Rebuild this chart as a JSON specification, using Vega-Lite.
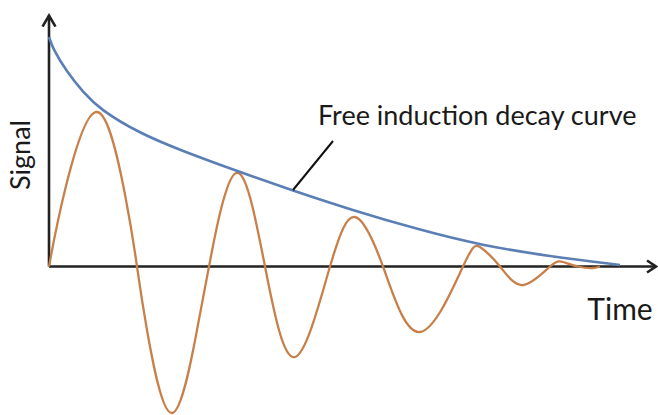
{
  "$schema": "https://vega.github.io/schema/vega-lite/v6.json",
  "width": 658,
  "height": 415,
  "autosize": "none",
  "padding": 0,
  "background": "white",
  "config": {"view": {"stroke": null}},
  "datasets": {
    "envelope": [
      {"t": 0, "s": 2.295}, {"t": 0.04, "s": 2.175}, {"t": 0.18, "s": 1.945}, {"t": 0.34, "s": 1.745},
      {"t": 0.51, "s": 1.57}, {"t": 0.91, "s": 1.33}, {"t": 1.31, "s": 1.165}, {"t": 1.87, "s": 0.958},
      {"t": 2.43, "s": 0.762}, {"t": 3.01, "s": 0.571}, {"t": 3.71, "s": 0.365}, {"t": 4.31, "s": 0.215},
      {"t": 5.01, "s": 0.1}, {"t": 5.71, "s": 0.015}
    ],
    "fid": [
      {"t": 0, "s": 0}, {"t": 0.16, "s": 0.765}, {"t": 0.48, "s": 1.545}, {"t": 0.76, "s": 0.72},
      {"t": 0.88, "s": 0}, {"t": 0.98, "s": -0.635}, {"t": 1.23, "s": -1.465},
      {"t": 1.48, "s": -0.635}, {"t": 1.60, "s": 0}, {"t": 1.87, "s": 0.935}, {"t": 2.16, "s": 0},
      {"t": 2.46, "s": -0.905}, {"t": 2.81, "s": 0}, {"t": 3.06, "s": 0.495}, {"t": 3.34, "s": 0},
      {"t": 3.71, "s": -0.655}, {"t": 4.14, "s": 0}, {"t": 4.31, "s": 0.195}, {"t": 4.51, "s": 0},
      {"t": 4.74, "s": -0.185}, {"t": 5.01, "s": 0}, {"t": 5.14, "s": 0.045}, {"t": 5.29, "s": 0},
      {"t": 5.44, "s": -0.015}, {"t": 5.51, "s": 0}
    ]
  },
  "encoding": {
    "x": {"field": "t", "type": "quantitative", "scale": {"domain": [-0.49, 6.09], "nice": false, "zero": false}, "axis": null},
    "y": {"field": "s", "type": "quantitative", "scale": {"domain": [-1.485, 2.665], "nice": false, "zero": false}, "axis": null}
  },
  "layer": [
    {
      "data": {"values": [{"t": 0, "s": 0, "t2": 0, "s2": 2.51}, {"t": 0, "s": 0, "t2": 6.07, "s2": 0}]},
      "mark": {"type": "rule", "color": "#222222", "strokeWidth": 2.6},
      "encoding": {"x2": {"field": "t2"}, "y2": {"field": "s2"}}
    },
    {
      "data": {"values": [{"t": 0, "s": 2.51}]},
      "mark": {"type": "point", "shape": "M-1,1.7L0,0L1,1.7", "size": 169, "filled": false, "stroke": "#222222", "strokeWidth": 2.6, "opacity": 1}
    },
    {
      "data": {"values": [{"t": 6.07, "s": 0}]},
      "mark": {"type": "point", "shape": "M-1.5,-1L0,0L-1.5,1", "size": 144, "filled": false, "stroke": "#222222", "strokeWidth": 2.6, "opacity": 1}
    },
    {
      "data": {"name": "fid"},
      "mark": {"type": "line", "interpolate": "natural", "color": "#c8804a", "strokeWidth": 2.3}
    },
    {
      "data": {"name": "envelope"},
      "mark": {"type": "line", "interpolate": "basis", "color": "#5b7fb5", "strokeWidth": 2.6}
    },
    {
      "data": {"values": [{"t": 2.44, "s": 0.765, "t2": 2.84, "s2": 1.255}]},
      "mark": {"type": "rule", "color": "#111111", "strokeWidth": 2},
      "encoding": {"x2": {"field": "t2"}, "y2": {"field": "s2"}}
    },
    {
      "data": {"values": [{"t": 2.69, "s": 1.415, "label": "Free induction decay curve"}]},
      "mark": {"type": "text", "align": "left", "baseline": "alphabetic", "font": "Lato", "fontSize": 27, "color": "#1a1a1a"},
      "encoding": {"text": {"field": "label"}}
    },
    {
      "data": {"values": [{"t": 5.71, "s": -0.535, "label": "Time"}]},
      "mark": {"type": "text", "align": "center", "baseline": "alphabetic", "font": "Lato", "fontSize": 30, "color": "#1a1a1a"},
      "encoding": {"text": {"field": "label"}}
    },
    {
      "data": {"values": [{"t": -0.19, "s": 1.115, "label": "Signal"}]},
      "mark": {"type": "text", "align": "center", "baseline": "alphabetic", "angle": 270, "font": "Lato", "fontSize": 27, "color": "#1a1a1a"},
      "encoding": {"text": {"field": "label"}}
    }
  ]
}
